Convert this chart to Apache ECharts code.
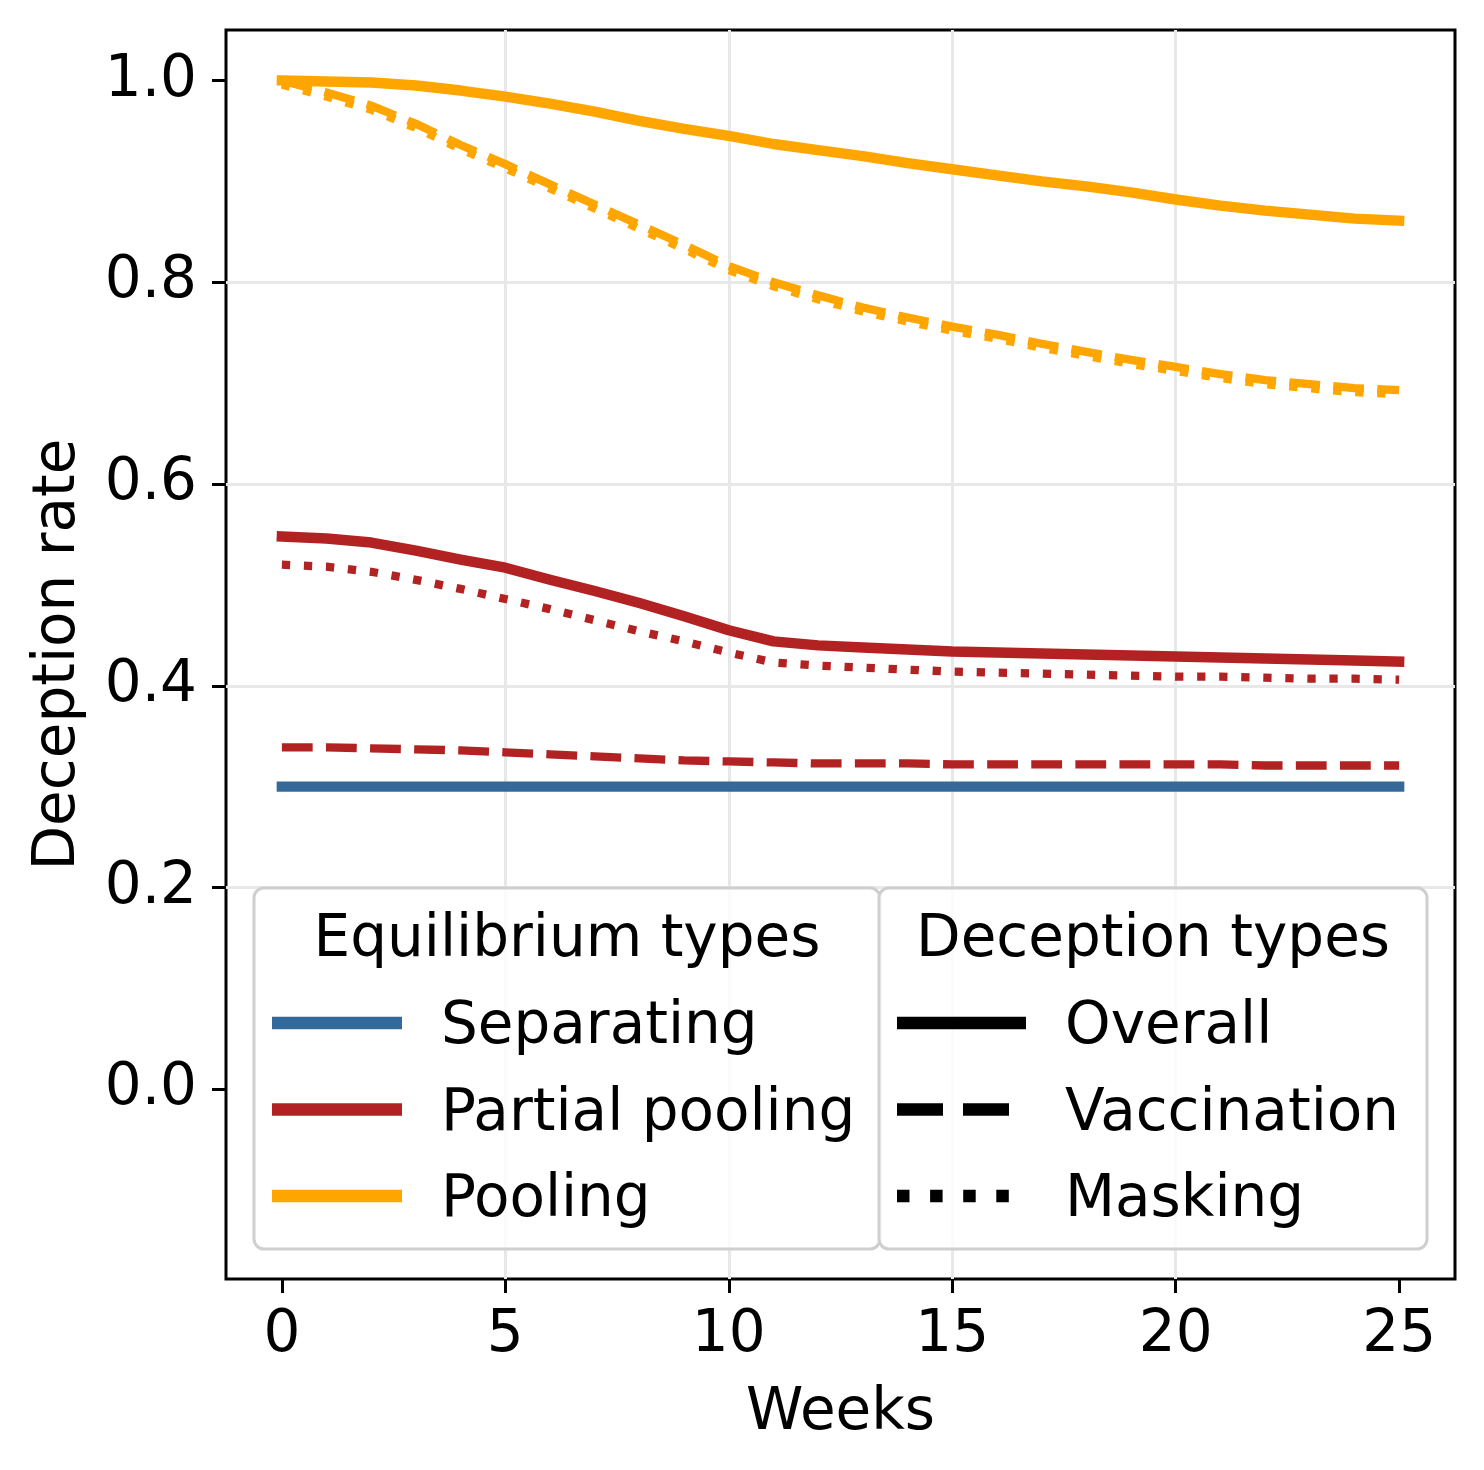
<!DOCTYPE html>
<html>
<head>
<meta charset="utf-8">
<script src="https://cdn.jsdelivr.net/npm/echarts@6/dist/echarts.min.js"></script>
<style>
html,body{margin:0;padding:0;background:#fff;}
#chart{width:1484px;height:1470px;}
</style>
</head>
<body>
<div id="chart"></div>
<script>
// ---- data ----
const weeks = [0,1,2,3,4,5,6,7,8,9,10,11,12,13,14,15,16,17,18,19,20,21,22,23,24,25];
const xTicks = [0,5,10,15,20,25];
const yTicks = [0,0.2,0.4,0.6,0.8,1.0];

const sepOverall = [0.3,0.3,0.3,0.3,0.3,0.3,0.3,0.3,0.3,0.3,0.3,0.3,0.3,0.3,0.3,0.3,0.3,0.3,0.3,0.3,0.3,0.3,0.3,0.3,0.3,0.3];
const sepVacc    = [0.3,0.3,0.3,0.3,0.3,0.3,0.3,0.3,0.3,0.3,0.3,0.3,0.3,0.3,0.3,0.3,0.3,0.3,0.3,0.3,0.3,0.3,0.3,0.3,0.3,0.3];
const sepMask    = [0.3,0.3,0.3,0.3,0.3,0.3,0.3,0.3,0.3,0.3,0.3,0.3,0.3,0.3,0.3,0.3,0.3,0.3,0.3,0.3,0.3,0.3,0.3,0.3,0.3,0.3];

const ppOverall = [0.548,0.546,0.542,0.534,0.525,0.517,0.505,0.494,0.482,0.469,0.455,0.444,0.440,0.438,0.436,0.434,0.433,0.432,0.431,0.430,0.429,0.428,0.427,0.426,0.425,0.424];
const ppVacc    = [0.339,0.339,0.338,0.337,0.336,0.334,0.332,0.330,0.328,0.326,0.325,0.324,0.323,0.323,0.323,0.322,0.322,0.322,0.322,0.322,0.322,0.322,0.321,0.321,0.321,0.321];
const ppMask    = [0.520,0.518,0.513,0.505,0.496,0.486,0.476,0.465,0.454,0.444,0.433,0.423,0.420,0.418,0.416,0.414,0.413,0.412,0.411,0.410,0.409,0.409,0.408,0.407,0.407,0.406];

const poolOverall = [1.000,0.999,0.998,0.995,0.990,0.984,0.977,0.969,0.960,0.952,0.945,0.937,0.931,0.925,0.918,0.912,0.906,0.900,0.895,0.889,0.882,0.876,0.871,0.867,0.863,0.861];
const poolVacc    = [1.000,0.988,0.975,0.957,0.936,0.917,0.897,0.877,0.857,0.837,0.816,0.800,0.787,0.775,0.765,0.756,0.748,0.739,0.731,0.723,0.716,0.709,0.703,0.699,0.695,0.693];
const poolMask    = [0.996,0.984,0.971,0.953,0.932,0.913,0.893,0.873,0.853,0.833,0.812,0.796,0.783,0.771,0.761,0.752,0.744,0.735,0.727,0.719,0.712,0.705,0.699,0.695,0.691,0.689];

const eqNames = ['Separating','Partial pooling','Pooling'];
const decNames = ['Overall','Vaccination','Masking'];
const eqColors = ['#34699a','#b22222','#ffa500'];

// ---- build ----
const FONT = 'DejaVu Sans';
const FS = 58;
function pairs(ys){ return weeks.map((w,i)=>[w, ys[i]]); }
const styles = {
  Overall: {type:'solid', width:10.4, cap:'square'},
  Vaccination: {type:[30.8,13.3], width:8.3, cap:'butt'},
  Masking: {type:[8.3,13.75], width:8.3, cap:'butt'}
};
const seriesData = [
  ['Separating','Vaccination',sepVacc],['Separating','Masking',sepMask],['Separating','Overall',sepOverall],
  ['Partial pooling','Overall',ppOverall],['Partial pooling','Vaccination',ppVacc],['Partial pooling','Masking',ppMask],
  ['Pooling','Overall',poolOverall],['Pooling','Masking',poolMask],['Pooling','Vaccination',poolVacc]
];
const series = seriesData.map(([eq,dec,ys])=>{
  const st = styles[dec];
  return {
    type:'line', name: eq+' '+dec, data: pairs(ys), showSymbol:false, symbol:'none',
    silent:true, animation:false,
    lineStyle:{color: eqColors[eqNames.indexOf(eq)], width: st.width, type: st.type, cap: st.cap, join:'round'}
  };
});

// legend graphics
const boxTop = 888, boxBot = 1249;
const leftBox = [254, 880], rightBox = [879, 1427];
const rowY = [1023, 1109.5, 1196];
const TXT_DY = 5;
const graphics = [];
function box(x0,x1){
  graphics.push({type:'rect', z:100, shape:{x:x0,y:boxTop,width:x1-x0,height:boxBot-boxTop,r:10},
    style:{fill:'rgba(255,255,255,0.8)', stroke:'#cfcfcf', lineWidth:3}});
}
function txt(x,y,t,align){
  graphics.push({type:'text', z:101, x:x, y:y+TXT_DY,
    style:{text:t, font: FS+'px "'+FONT+'"', fill:'#000', align:align, verticalAlign:'middle', textAlign:align, textVerticalAlign:'middle'}});
}
function handle(x0,x1,y,color,dash){
  graphics.push({type:'line', z:101, shape:{x1:x0,y1:y,x2:x1,y2:y},
    style:{stroke:color, lineWidth:12.5, lineDash:dash, lineCap:'butt'}});
}
box(leftBox[0], leftBox[1]);
box(rightBox[0], rightBox[1]);
txt((leftBox[0]+leftBox[1])/2, 936, 'Equilibrium types', 'center');
txt((rightBox[0]+rightBox[1])/2, 936, 'Deception types', 'center');
eqNames.forEach((n,i)=>{ handle(272,402,rowY[i],eqColors[i],null); txt(441,rowY[i],n,'left'); });
const legendDash = [null,[46,20],[12.5,20.6]];
decNames.forEach((n,i)=>{ handle(897,1026,rowY[i],'#000',legendDash[i]); txt(1065,rowY[i],n,'left'); });

const chart = echarts.init(document.getElementById('chart'), null, {renderer:'canvas'});
chart.setOption({
  animation:false,
  backgroundColor:'#fff',
  textStyle:{fontFamily:FONT},
  grid:{left:226, top:30, right:29, bottom:191, show:true, borderColor:'#000', borderWidth:3, backgroundColor:'transparent', containLabel:false},
  xAxis:{
    type:'value', min:-1.25, max:26.25, position:'bottom',
    name:'Weeks', nameLocation:'middle', nameGap:106,
    nameTextStyle:{fontSize:FS, color:'#000', fontFamily:FONT},
    axisLine:{show:false, onZero:false},
    axisTick:{show:true, length:14, lineStyle:{color:'#000', width:3}, customValues:xTicks},
    axisLabel:{fontSize:FS, color:'#000', fontFamily:FONT, margin:28, customValues:xTicks, formatter:v=>String(v)},
    splitLine:{show:true, showMinLine:false, showMaxLine:false, lineStyle:{color:'#e8e8e8', width:3}}
  },
  yAxis:{
    type:'value', min:-0.188, max:1.05, position:'left',
    name:'Deception rate', nameLocation:'middle', nameGap:138, nameRotate:90,
    nameTextStyle:{fontSize:FS, color:'#000', fontFamily:FONT},
    axisLine:{show:false, onZero:false},
    axisTick:{show:true, length:14, lineStyle:{color:'#000', width:3}, customValues:yTicks},
    axisLabel:{fontSize:FS, color:'#000', fontFamily:FONT, margin:29, customValues:yTicks, formatter:v=>v.toFixed(1)},
    splitLine:{show:true, showMinLine:false, showMaxLine:false, lineStyle:{color:'#e8e8e8', width:3}}
  },
  series: series,
  graphic: graphics
});
</script>
</body>
</html>
